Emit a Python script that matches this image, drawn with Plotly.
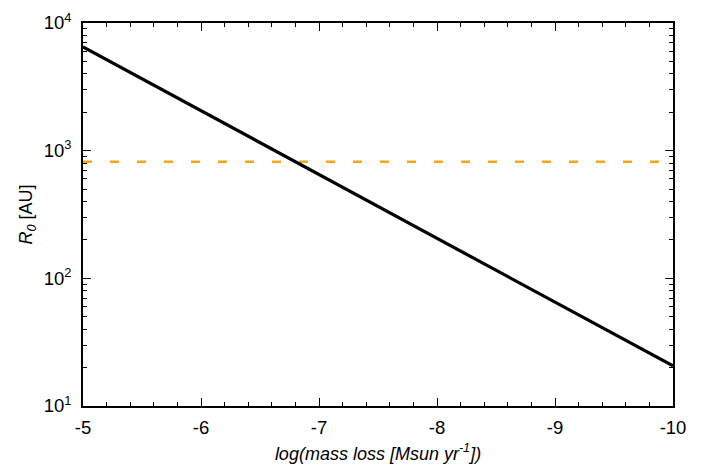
import plotly.graph_objects as go

# data
log_mdot = [-5, -6, -7, -8, -9, -10]
r0_au = [6500, 2055, 650, 205.5, 65, 20.6]
ref_x = [-5, -10]
ref_r0 = [820, 820]

y_tickvals = [10, 100, 1000, 10000]
y_ticktext = ["10<sup>1</sup>", "10<sup>2</sup>", "10<sup>3</sup>", "10<sup>4</sup>"]
x_tickvals = [-5, -6, -7, -8, -9, -10]

fig = go.Figure()
fig.add_trace(go.Scatter(x=ref_x, y=ref_r0, mode="lines",
                         line=dict(color="#F5A817", width=2.5, dash="9px,18px"),
                         showlegend=False, hoverinfo="skip"))
fig.add_trace(go.Scatter(x=log_mdot, y=r0_au, mode="lines",
                         line=dict(color="black", width=3.2),
                         showlegend=False, hoverinfo="skip"))

font = "Liberation Sans, Arial, Helvetica, sans-serif"
fig.update_layout(
    width=710, height=469,
    margin=dict(l=83, r=37, t=23, b=63, autoexpand=False),
    paper_bgcolor="white", plot_bgcolor="white",
    font=dict(family=font, size=18.5, color="black"),
    xaxis=dict(
        range=[-5, -10], tickvals=x_tickvals, ticktext=[str(v) for v in x_tickvals],
        ticks="inside", ticklen=8, tickwidth=1, tickcolor="black",
        showline=True, linecolor="black", linewidth=1.5, mirror="allticks",
        showgrid=False, zeroline=False, ticklabelstandoff=4,
        minor=dict(ticks="inside", ticklen=4, dtick=0.2, tickcolor="black", showgrid=False),
        title=dict(text="<i>log(mass loss [Msun yr<sup>-1</sup>])</i>", font=dict(size=18), standoff=10),
    ),
    yaxis=dict(
        type="log", range=[1, 4], tickvals=y_tickvals, ticktext=y_ticktext,
        ticks="inside", ticklen=8, tickwidth=1, tickcolor="black",
        showline=True, linecolor="black", linewidth=1.5, mirror="allticks",
        showgrid=False, zeroline=False, ticklabelstandoff=6,
        minor=dict(ticks="inside", ticklen=4, dtick="D1", tickcolor="black", showgrid=False),
        title=dict(text="<i>R<sub>0</sub></i> [AU]", font=dict(size=18), standoff=6),
    ),
)

fig.write_html("out.html", config={"displayModeBar": False},
               post_script="document.body.style.margin='0';")
